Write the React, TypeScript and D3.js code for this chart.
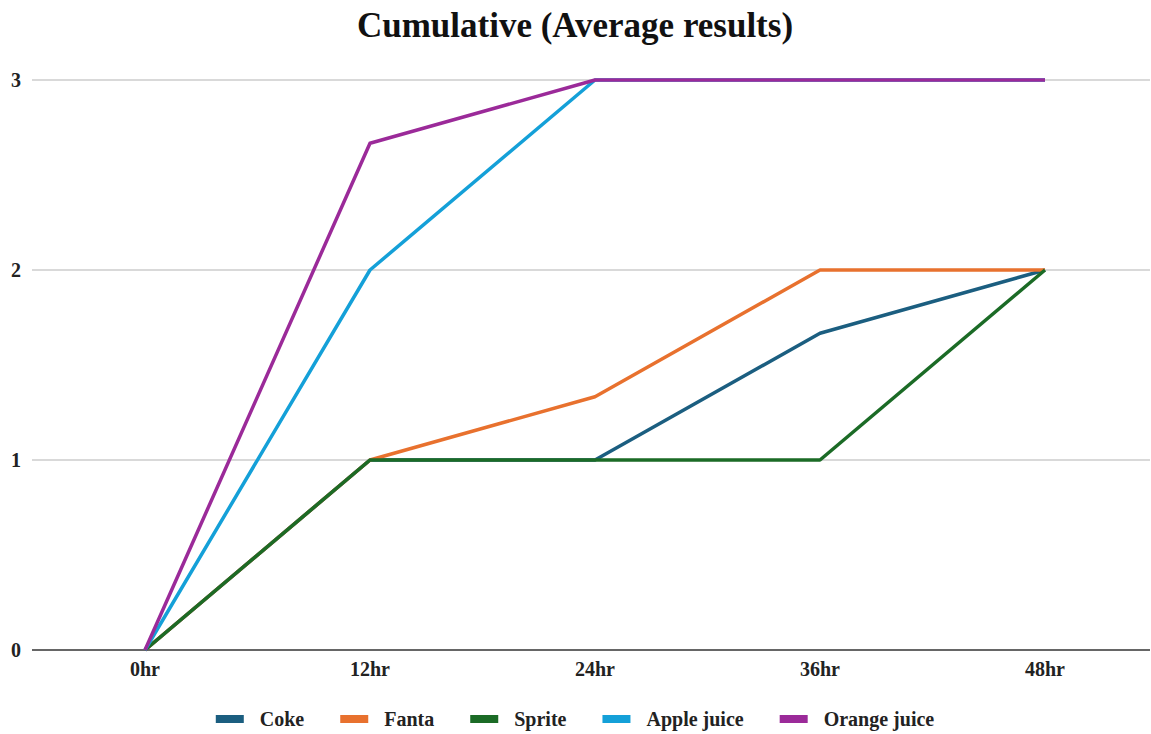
import React, { useEffect, useRef } from "react";
import * as d3 from "d3";

const categories = ["0hr", "12hr", "24hr", "36hr", "48hr"];
const yTicks = [0, 1, 2, 3];
const seriesNames = ["Coke", "Fanta", "Sprite", "Apple juice", "Orange juice"];
const seriesColors = ["#1b5e80", "#e8712e", "#1b6b26", "#14a0d8", "#9b2a99"];
const coke = [0, 1, 1, 1.667, 2];
const fanta = [0, 1, 1.333, 2, 2];
const sprite = [0, 1, 1, 1, 2];
const appleJuice = [0, 2, 3, 3, 3];
const orangeJuice = [0, 2.667, 3, 3, 3];
const seriesValues = [coke, fanta, sprite, appleJuice, orangeJuice];

const W = 1151;
const H = 734;
const FONT = "'Liberation Serif', 'Times New Roman', serif";

export default function App() {
  const ref = useRef<SVGSVGElement | null>(null);

  useEffect(() => {
    const svg = d3.select(ref.current);
    svg.selectAll("*").remove();

    const gridLeft = 32;
    const gridRight = 1150;
    const x = d3.scalePoint<string>().domain(categories).range([145, 1045]);
    const y = d3.scaleLinear().domain([0, 3]).range([650, 80]);

    svg.append("text")
      .attr("x", 575).attr("y", 37)
      .attr("text-anchor", "middle")
      .attr("font-family", FONT).attr("font-weight", "bold").attr("font-size", 35)
      .attr("fill", "#111")
      .text("Cumulative (Average results)");

    // horizontal gridlines and y labels
    const yg = svg.append("g");
    yg.selectAll("line").data(yTicks).join("line")
      .attr("x1", gridLeft).attr("x2", gridRight)
      .attr("y1", (d) => y(d)).attr("y2", (d) => y(d))
      .attr("stroke", (d) => (d === 0 ? "#333" : "#ccc"))
      .attr("stroke-width", 1.5);
    yg.selectAll("text").data(yTicks).join("text")
      .attr("x", 16).attr("y", (d) => y(d) + 6.5)
      .attr("text-anchor", "middle")
      .attr("font-family", FONT).attr("font-weight", "bold").attr("font-size", 20)
      .attr("fill", "#222")
      .text((d) => String(d));

    // x labels
    svg.append("g").selectAll("text").data(categories).join("text")
      .attr("x", (d) => x(d)!).attr("y", 676)
      .attr("text-anchor", "middle")
      .attr("font-family", FONT).attr("font-weight", "bold").attr("font-size", 20)
      .attr("fill", "#222")
      .text((d) => d);

    const line = d3.line<number>()
      .x((_, i) => x(categories[i])!)
      .y((d) => y(d));

    svg.append("g").selectAll("path").data(seriesValues).join("path")
      .attr("d", (d) => line(d))
      .attr("fill", "none")
      .attr("stroke", (_, i) => seriesColors[i])
      .attr("stroke-width", 3.5)
      .attr("stroke-linejoin", "round");

    // legend, measured and centred
    const sw = 28;
    const textGap = 16;
    const gap = 36;
    const lg = svg.append("g");
    const items = lg.selectAll("g").data(seriesNames).join("g");
    items.append("rect")
      .attr("width", sw).attr("height", 8).attr("y", -11)
      .attr("fill", (_, i) => seriesColors[i]);
    items.append("text")
      .attr("x", sw + textGap).attr("y", 0)
      .attr("font-family", FONT).attr("font-weight", "bold").attr("font-size", 20)
      .attr("fill", "#222")
      .text((d) => d);
    const widths: number[] = [];
    items.select("text").each(function () {
      widths.push((this as SVGTextElement).getComputedTextLength());
    });
    const total = widths.reduce((a, w) => a + sw + textGap + w, 0) + gap * (widths.length - 1);
    let cx = 575 - total / 2;
    items.attr("transform", (_, i) => {
      const t = `translate(${cx},726)`;
      cx += sw + textGap + widths[i] + gap;
      return t;
    });
  }, []);

  return (
    <svg ref={ref} width={W} height={H} style={{ display: "block", position: "absolute", left: 0, top: 0, background: "#fff" }} />
  );
}
